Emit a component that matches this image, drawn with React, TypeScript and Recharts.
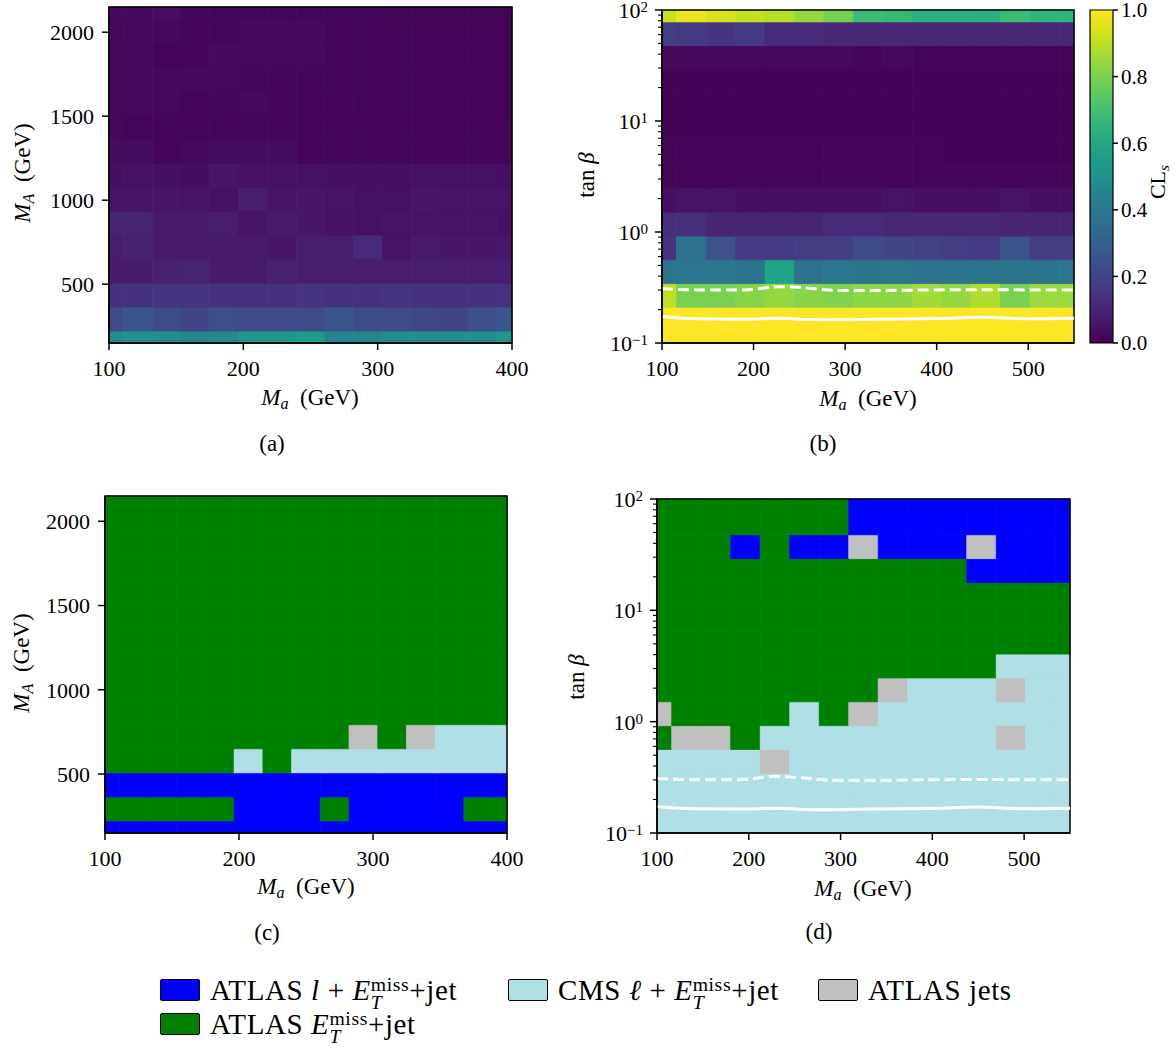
import React from 'react';
import { ComposedChart, XAxis, YAxis, ReferenceArea, Line } from 'recharts';

const FONT = '"Liberation Serif", "Times New Roman", serif';

// ---------- data ----------
const xA = [100, 121.4, 142.9, 164.3, 185.7, 207.1, 228.6, 250, 271.4, 292.9, 314.3, 335.7, 357.1, 378.6, 400];
const yA = [150, 292.9, 435.7, 578.6, 721.4, 864.3, 1007.1, 1150, 1292.9, 1435.7, 1578.6, 1721.4, 1864.3, 2007.1, 2150];
const xB = [100, 132.1, 164.3, 196.4, 228.6, 260.7, 292.9, 325, 357.1, 389.3, 421.4, 453.6, 485.7, 517.9, 550];
const tanB = [0.1, 0.1638, 0.2683, 0.4394, 0.7197, 1.179, 1.931, 3.162, 5.179, 8.483, 13.89, 22.76, 37.28, 61.05, 100];

const xTicksA = [100, 200, 300, 400];
const yTicksA = [500, 1000, 1500, 2000];
const xTicksB = [100, 200, 300, 400, 500];
const logTicks = [0.1, 0.2, 0.3, 0.4, 0.5, 0.6, 0.7, 0.8, 0.9, 1, 2, 3, 4, 5, 6, 7, 8, 9, 10, 20, 30, 40, 50, 60, 70, 80, 90, 100];
const cbTicks = [0, 0.2, 0.4, 0.6, 0.8, 1.0];

// CLs values, panel (a): rows from bottom (M_A = 150) to top (M_A = 2150)
const clsA = [
  [0.48, 0.50, 0.49, 0.46, 0.47, 0.52, 0.52, 0.55, 0.44, 0.45, 0.48, 0.49, 0.49, 0.49, 0.52],
  [0.22, 0.26, 0.23, 0.20, 0.24, 0.22, 0.22, 0.22, 0.26, 0.23, 0.22, 0.21, 0.20, 0.24, 0.27],
  [0.14, 0.14, 0.15, 0.15, 0.14, 0.14, 0.14, 0.15, 0.14, 0.14, 0.15, 0.14, 0.14, 0.14, 0.14],
  [0.07, 0.07, 0.09, 0.10, 0.07, 0.07, 0.09, 0.08, 0.08, 0.08, 0.08, 0.08, 0.08, 0.08, 0.08],
  [0.08, 0.09, 0.07, 0.07, 0.07, 0.07, 0.06, 0.08, 0.08, 0.12, 0.05, 0.07, 0.06, 0.06, 0.06],
  [0.10, 0.10, 0.07, 0.07, 0.08, 0.05, 0.07, 0.06, 0.045, 0.045, 0.05, 0.05, 0.05, 0.05, 0.045],
  [0.05, 0.05, 0.06, 0.05, 0.045, 0.08, 0.05, 0.06, 0.05, 0.045, 0.045, 0.06, 0.05, 0.05, 0.05],
  [0.04, 0.045, 0.04, 0.03, 0.06, 0.045, 0.045, 0.045, 0.04, 0.04, 0.04, 0.045, 0.045, 0.045, 0.04],
  [0.03, 0.03, 0.015, 0.02, 0.03, 0.03, 0.03, 0.015, 0.015, 0.015, 0.015, 0.015, 0.015, 0.015, 0.015],
  [0.02, 0.01, 0.015, 0.015, 0.015, 0.015, 0.015, 0.015, 0.015, 0.015, 0.015, 0.015, 0.015, 0.015, 0.015],
  [0.02, 0.02, 0.02, 0.01, 0.015, 0.02, 0.015, 0.015, 0.01, 0.01, 0.01, 0.01, 0.01, 0.01, 0.01],
  [0.02, 0.02, 0.02, 0.02, 0.02, 0.015, 0.015, 0.015, 0.015, 0.015, 0.015, 0.01, 0.01, 0.012, 0.01],
  [0.02, 0.02, 0.01, 0.015, 0.025, 0.02, 0.02, 0.02, 0.015, 0.015, 0.01, 0.01, 0.01, 0.01, 0.01],
  [0.02, 0.025, 0.02, 0.015, 0.015, 0.02, 0.02, 0.02, 0.015, 0.015, 0.015, 0.01, 0.01, 0.01, 0.01],
  [0.025, 0.025, 0.035, 0.015, 0.015, 0.015, 0.015, 0.015, 0.015, 0.015, 0.01, 0.01, 0.01, 0.01, 0.01],
];

// CLs values, panel (b): rows from bottom (tan b = 0.1) to top (tan b = 100)
const clsB = [
  [1.0, 1.0, 1.0, 1.0, 1.0, 1.0, 1.0, 1.0, 1.0, 1.0, 1.0, 1.0, 1.0, 1.0, 1.0],
  [1.0, 1.0, 1.0, 1.0, 1.0, 1.0, 1.0, 1.0, 1.0, 1.0, 1.0, 1.0, 1.0, 1.0, 1.0],
  [0.90, 0.80, 0.80, 0.82, 0.84, 0.82, 0.81, 0.83, 0.83, 0.86, 0.84, 0.88, 0.80, 0.85, 0.85],
  [0.38, 0.39, 0.39, 0.38, 0.58, 0.37, 0.39, 0.38, 0.39, 0.37, 0.38, 0.38, 0.38, 0.38, 0.39],
  [0.15, 0.37, 0.25, 0.17, 0.17, 0.18, 0.18, 0.22, 0.20, 0.19, 0.18, 0.17, 0.25, 0.18, 0.18],
  [0.13, 0.13, 0.10, 0.10, 0.10, 0.10, 0.12, 0.12, 0.11, 0.11, 0.11, 0.11, 0.10, 0.10, 0.10],
  [0.04, 0.05, 0.05, 0.04, 0.04, 0.04, 0.04, 0.04, 0.05, 0.04, 0.04, 0.04, 0.05, 0.04, 0.04],
  [0.015, 0.015, 0.015, 0.015, 0.015, 0.015, 0.015, 0.015, 0.015, 0.015, 0.015, 0.015, 0.015, 0.015, 0.015],
  [0.01, 0.01, 0.01, 0.01, 0.01, 0.01, 0.01, 0.01, 0.01, 0.01, 0.005, 0.005, 0.005, 0.005, 0.005],
  [0.005, 0.005, 0.005, 0.005, 0.005, 0.005, 0.005, 0.005, 0.005, 0.005, 0.005, 0.005, 0.005, 0.005, 0.005],
  [0.005, 0.005, 0.005, 0.005, 0.005, 0.005, 0.005, 0.005, 0.005, 0.005, 0.005, 0.005, 0.005, 0.005, 0.005],
  [0.005, 0.005, 0.005, 0.005, 0.005, 0.005, 0.005, 0.005, 0.005, 0.005, 0.005, 0.005, 0.005, 0.005, 0.005],
  [0.02, 0.02, 0.02, 0.02, 0.02, 0.02, 0.02, 0.01, 0.02, 0.01, 0.01, 0.01, 0.01, 0.01, 0.01],
  [0.18, 0.17, 0.15, 0.17, 0.12, 0.12, 0.11, 0.11, 0.11, 0.11, 0.11, 0.11, 0.11, 0.11, 0.11],
  [0.92, 0.97, 0.94, 0.91, 0.89, 0.84, 0.79, 0.68, 0.67, 0.63, 0.63, 0.63, 0.68, 0.65, 0.65],
];

// Most sensitive analysis. B = ATLAS l+MET+jet, C = CMS, G = ATLAS jets, E = ATLAS MET+jet
const bestC = [
  'BBBBBBBBBBBBBBB',
  'EEEEEBBBEBBBBEE',
  'BBBBBBBBBBBBBBB',
  'EEEEECECCCCCCCC',
  'EEEEEEEEEGEGCCC',
  'EEEEEEEEEEEEEEE',
  'EEEEEEEEEEEEEEE',
  'EEEEEEEEEEEEEEE',
  'EEEEEEEEEEEEEEE',
  'EEEEEEEEEEEEEEE',
  'EEEEEEEEEEEEEEE',
  'EEEEEEEEEEEEEEE',
  'EEEEEEEEEEEEEEE',
  'EEEEEEEEEEEEEEE',
  'EEEEEEEEEEEEEEE',
];
const bestD = [
  'CCCCCCCCCCCCCCC',
  'CCCCCCCCCCCCCCC',
  'CCCCCCCCCCCCCCC',
  'CCCCGCCCCCCCCCC',
  'EGGECCCCCCCCGCC',
  'GEEEECEGCCCCCCC',
  'EEEEEEEEGCCCGCC',
  'EEEEEEEEEEEECCC',
  'EEEEEEEEEEEEEEE',
  'EEEEEEEEEEEEEEE',
  'EEEEEEEEEEEEEEE',
  'EEEEEEEEEEEBBBB',
  'EEEBEBBGBBBGBBB',
  'EEEEEEEBBBBBBBB',
  'EEEEEEEBBBBBBBB',
];

// exclusion contours (tan b vs M_a)
const contourX = [100, 140, 190, 230, 260, 290, 330, 400, 450, 500, 550];
const expected95 = [0.309, 0.301, 0.301, 0.322, 0.312, 0.298, 0.297, 0.301, 0.302, 0.301, 0.301];
const observed95 = [0.173, 0.165, 0.164, 0.167, 0.163, 0.162, 0.164, 0.166, 0.171, 0.165, 0.167];

const CAT_COLOR: Record<string, string> = { B: '#0000ff', C: '#b0e0e6', G: '#c0c0c0', E: '#008000' };

const VIRIDIS = [
  '#440154', '#471365', '#482475', '#463480', '#414487', '#3b528b', '#355f8d', '#2f6c8e', '#2a788e', '#25848e',
  '#21918c', '#1e9c89', '#22a884', '#2fb47c', '#44bf70', '#5ec962', '#7ad151', '#9bd93c', '#bddf26', '#dfe318', '#fde725',
];

// ---------- helpers ----------
function hexToRgb(h: string) {
  return [parseInt(h.slice(1, 3), 16), parseInt(h.slice(3, 5), 16), parseInt(h.slice(5, 7), 16)];
}
function viridis(v: number) {
  const t = Math.max(0, Math.min(1, v)) * (VIRIDIS.length - 1);
  const i = Math.min(VIRIDIS.length - 2, Math.floor(t));
  const f = t - i;
  const a = hexToRgb(VIRIDIS[i]);
  const b = hexToRgb(VIRIDIS[i + 1]);
  const c = a.map((x, k) => Math.round(x + (b[k] - x) * f));
  return `rgb(${c[0]},${c[1]},${c[2]})`;
}
function edges(centers: number[], log: boolean, lo: number, hi: number) {
  const e = [lo];
  for (let i = 0; i < centers.length - 1; i++) {
    e.push(log ? Math.sqrt(centers[i] * centers[i + 1]) : (centers[i] + centers[i + 1]) / 2);
  }
  e.push(hi);
  return e;
}

const TICK_FS = 22;
const axisStyle = { stroke: '#000', strokeWidth: 1.5 };
const tickFont = { fill: '#000', fontSize: TICK_FS, fontFamily: FONT };

const LogTick = (props: any) => {
  const { x, y, payload } = props;
  const v = payload.value as number;
  const lg = Math.log10(v);
  const exp = Math.round(lg);
  const major = Math.abs(lg - exp) < 1e-6;
  return (
    <g>
      <line x1={x - (major ? 7 : 4)} x2={x} y1={y} y2={y} stroke="#000" strokeWidth={major ? 1.5 : 1.1} />
      {major && (
        <text x={x - 14} y={y + 8} textAnchor="end" fontFamily={FONT} fontSize={TICK_FS} fill="#000">
          10
          <tspan dy={-6} fontSize={15}>{exp < 0 ? `\u2212${-exp}` : `${exp}`}</tspan>
        </text>
      )}
    </g>
  );
};

type PanelProps = {
  left: number; top: number; width: number; height: number;
  margin: { top: number; right: number; bottom: number; left: number };
  xDomain: [number, number]; yDomain: [number, number];
  xTicks: number[]; yTicks: number[]; logY: boolean;
  xCenters: number[]; yCenters: number[];
  color: (r: number, c: number) => string;
  contour?: boolean;
};

// charts are shifted up by PAD so that texts near the top edge are not clipped by the svg
const PAD = 20;

function Panel(p: PanelProps) {
  const xe = edges(p.xCenters, false, p.xDomain[0], p.xDomain[1]);
  const ye = edges(p.yCenters, p.logY, p.yDomain[0], p.yDomain[1]);
  const cells: React.ReactNode[] = [];
  for (let r = 0; r < p.yCenters.length; r++) {
    for (let c = 0; c < p.xCenters.length; c++) {
      const col = p.color(r, c);
      cells.push(
        <ReferenceArea
          key={`c${r}-${c}`}
          x1={xe[c]} x2={xe[c + 1]} y1={ye[r]} y2={ye[r + 1]}
          fill={col} fillOpacity={1} stroke={col} strokeWidth={0.8}
          ifOverflow="visible"
        />
      );
    }
  }
  const data = p.contour
    ? contourX.map((x, i) => ({ x, expected: expected95[i], observed: observed95[i] }))
    : p.xCenters.map((x) => ({ x }));
  return (
    <div style={{ position: 'absolute', left: p.left, top: p.top - PAD }}>
      <ComposedChart width={p.width} height={p.height + PAD} margin={{ ...p.margin, top: p.margin.top + PAD }} data={data}>
        <XAxis
          type="number" dataKey="x" domain={p.xDomain} ticks={p.xTicks} interval={0} allowDataOverflow
          height={77} tickSize={7} tickMargin={10} stroke="#000" axisLine={axisStyle} tickLine={axisStyle} tick={tickFont}
        />
        {p.logY ? (
          <YAxis
            type="number" scale="log" domain={p.yDomain} ticks={logTicks} interval={0} allowDataOverflow
            width={100} tickSize={0} tickMargin={0} tickLine={false} axisLine={axisStyle}
            tick={(tp: any) => <LogTick {...tp} />}
          />
        ) : (
          <YAxis
            type="number" domain={p.yDomain} ticks={p.yTicks} interval={0} allowDataOverflow
            width={100} tickSize={7} tickMargin={8} stroke="#000" axisLine={axisStyle} tickLine={axisStyle} tick={tickFont}
          />
        )}
        {cells}
        {p.contour && (
          <Line type="monotone" dataKey="expected" stroke="#fff" strokeWidth={3} strokeDasharray="11 5" dot={false} isAnimationActive={false} />
        )}
        {p.contour && (
          <Line type="monotone" dataKey="observed" stroke="#fff" strokeWidth={3} dot={false} isAnimationActive={false} />
        )}
        <ReferenceArea
          x1={p.xDomain[0]} x2={p.xDomain[1]} y1={p.yDomain[0]} y2={p.yDomain[1]}
          fill="none" fillOpacity={0} stroke="#000" strokeWidth={1.5} ifOverflow="visible"
        />
      </ComposedChart>
    </div>
  );
}

function ColorBar() {
  return (
    <div style={{ position: 'absolute', left: 1085, top: -PAD }}>
      <ComposedChart width={90} height={420 + PAD} margin={{ top: 10 + PAD, right: 0, bottom: 77, left: 5 }} data={[{ x: 0, y: 0 }, { x: 1, y: 1 }]}>
        <defs>
          <linearGradient id="viridisGrad" x1="0" y1="1" x2="0" y2="0">
            {VIRIDIS.map((c, i) => (
              <stop key={i} offset={`${(i / (VIRIDIS.length - 1)) * 100}%`} stopColor={c} />
            ))}
          </linearGradient>
        </defs>
        <XAxis type="number" dataKey="x" domain={[0, 1]} allowDataOverflow hide />
        <YAxis
          orientation="right" type="number" dataKey="y" domain={[0, 1]} allowDataOverflow ticks={cbTicks} interval={0} width={62}
          tickSize={5} tickMargin={3} axisLine={false} tickLine={axisStyle} stroke="#000"
          tick={{ ...tickFont, fontSize: 21 }} tickFormatter={(v: number) => v.toFixed(1)}
        />
        <ReferenceArea x1={0} x2={1} y1={0} y2={1} fill="url(#viridisGrad)" fillOpacity={1} stroke="#000" strokeWidth={1.2} ifOverflow="visible" />
      </ComposedChart>
    </div>
  );
}

const Lbl = ({ x, y, rotate, size = 23, children }: { x: number; y: number; rotate?: boolean; size?: number; children: React.ReactNode }) => (
  <div
    style={{
      position: 'absolute', left: x, top: y, fontFamily: FONT, fontSize: size, lineHeight: 1, whiteSpace: 'nowrap', color: '#000',
      transform: `translate(-50%, -50%)${rotate ? ' rotate(-90deg)' : ''}`,
    }}
  >
    {children}
  </div>
);

const Sub = ({ children, italic = true }: { children: React.ReactNode; italic?: boolean }) => (
  <span style={{ fontSize: '0.7em', position: 'relative', top: '0.25em', fontStyle: italic ? 'italic' : 'normal' }}>{children}</span>
);

const MaLabel = () => (<><i>M</i><Sub>a</Sub>{'\u2002'}(GeV)</>);
const MALabel = () => (<><i>M</i><Sub>A</Sub>{'\u2002'}(GeV)</>);
const TanLabel = () => (<>tan <i>β</i></>);

const ET = () => (
  <span>
    <i>E</i>
    <span style={{ display: 'inline-block', position: 'relative', fontSize: '0.68em', lineHeight: 0.85 }}>
      <span style={{ position: 'relative', top: '-0.45em' }}>miss</span>
      <span style={{ position: 'absolute', left: 0, top: '0.5em', lineHeight: 0.85, fontStyle: 'italic' }}>T</span>
    </span>
  </span>
);

const legendItems = [
  { cat: 'B', x: 160, y: 990, label: <>ATLAS <i>l</i>{'\u2005'}+{'\u2005'}<ET />+jet</> },
  { cat: 'C', x: 508, y: 990, label: <>CMS <i>ℓ</i>{'\u2005'}+{'\u2005'}<ET />+jet</> },
  { cat: 'G', x: 818, y: 990, label: <>ATLAS jets</> },
  { cat: 'E', x: 160, y: 1024, label: <>ATLAS <ET />+jet</> },
];

export default function App() {
  return (
    <div style={{ position: 'absolute', left: 0, top: 0, width: 1175, height: 1049, background: '#fff', overflow: 'hidden' }}>
      <Panel
        left={0} top={0} width={530} height={420} margin={{ top: 7, right: 18, bottom: 0, left: 9 }}
        xDomain={[100, 400]} yDomain={[150, 2150]} xTicks={xTicksA} yTicks={yTicksA} logY={false}
        xCenters={xA} yCenters={yA} color={(r, c) => viridis(clsA[r][c])}
      />
      <Panel
        left={560} top={0} width={530} height={420} margin={{ top: 10, right: 16, bottom: 0, left: 2 }}
        xDomain={[100, 550]} yDomain={[0.1, 100]} xTicks={xTicksB} yTicks={[]} logY
        xCenters={xB} yCenters={tanB} color={(r, c) => viridis(clsB[r][c])} contour
      />
      <ColorBar />
      <Panel
        left={0} top={480} width={530} height={430} margin={{ top: 16, right: 23, bottom: 0, left: 5 }}
        xDomain={[100, 400]} yDomain={[150, 2150]} xTicks={xTicksA} yTicks={yTicksA} logY={false}
        xCenters={xA} yCenters={yA} color={(r, c) => CAT_COLOR[bestC[r][c]]}
      />
      <Panel
        left={555} top={480} width={530} height={430} margin={{ top: 19, right: 15, bottom: 0, left: 2 }}
        xDomain={[100, 550]} yDomain={[0.1, 100]} xTicks={xTicksB} yTicks={[]} logY
        xCenters={xB} yCenters={tanB} color={(r, c) => CAT_COLOR[bestD[r][c]]} contour
      />

      <Lbl x={310} y={397}><MaLabel /></Lbl>
      <Lbl x={22} y={173} rotate><MALabel /></Lbl>
      <Lbl x={272} y={443}>(a)</Lbl>

      <Lbl x={868} y={398}><MaLabel /></Lbl>
      <Lbl x={586} y={175} rotate><TanLabel /></Lbl>
      <Lbl x={823} y={443}>(b)</Lbl>
      <Lbl x={1158} y={182} rotate size={22}>CL<Sub>s</Sub></Lbl>

      <Lbl x={306} y={886}><MaLabel /></Lbl>
      <Lbl x={21} y={663} rotate><MALabel /></Lbl>
      <Lbl x={267} y={932}>(c)</Lbl>

      <Lbl x={863} y={888}><MaLabel /></Lbl>
      <Lbl x={576} y={677} rotate><TanLabel /></Lbl>
      <Lbl x={819} y={931}>(d)</Lbl>

      {legendItems.map((it) => (
        <div key={it.cat} style={{ position: 'absolute', left: it.x, top: it.y - 15, height: 30, display: 'flex', alignItems: 'center', fontFamily: FONT, fontSize: 29, letterSpacing: 0.6, whiteSpace: 'nowrap', color: '#000' }}>
          <div style={{ width: 40, height: 22, boxSizing: 'border-box', border: '1.5px solid #000', borderRadius: 2, background: CAT_COLOR[it.cat], marginRight: 10 }} />
          <span style={{ lineHeight: 1 }}>{it.label}</span>
        </div>
      ))}
    </div>
  );
}
